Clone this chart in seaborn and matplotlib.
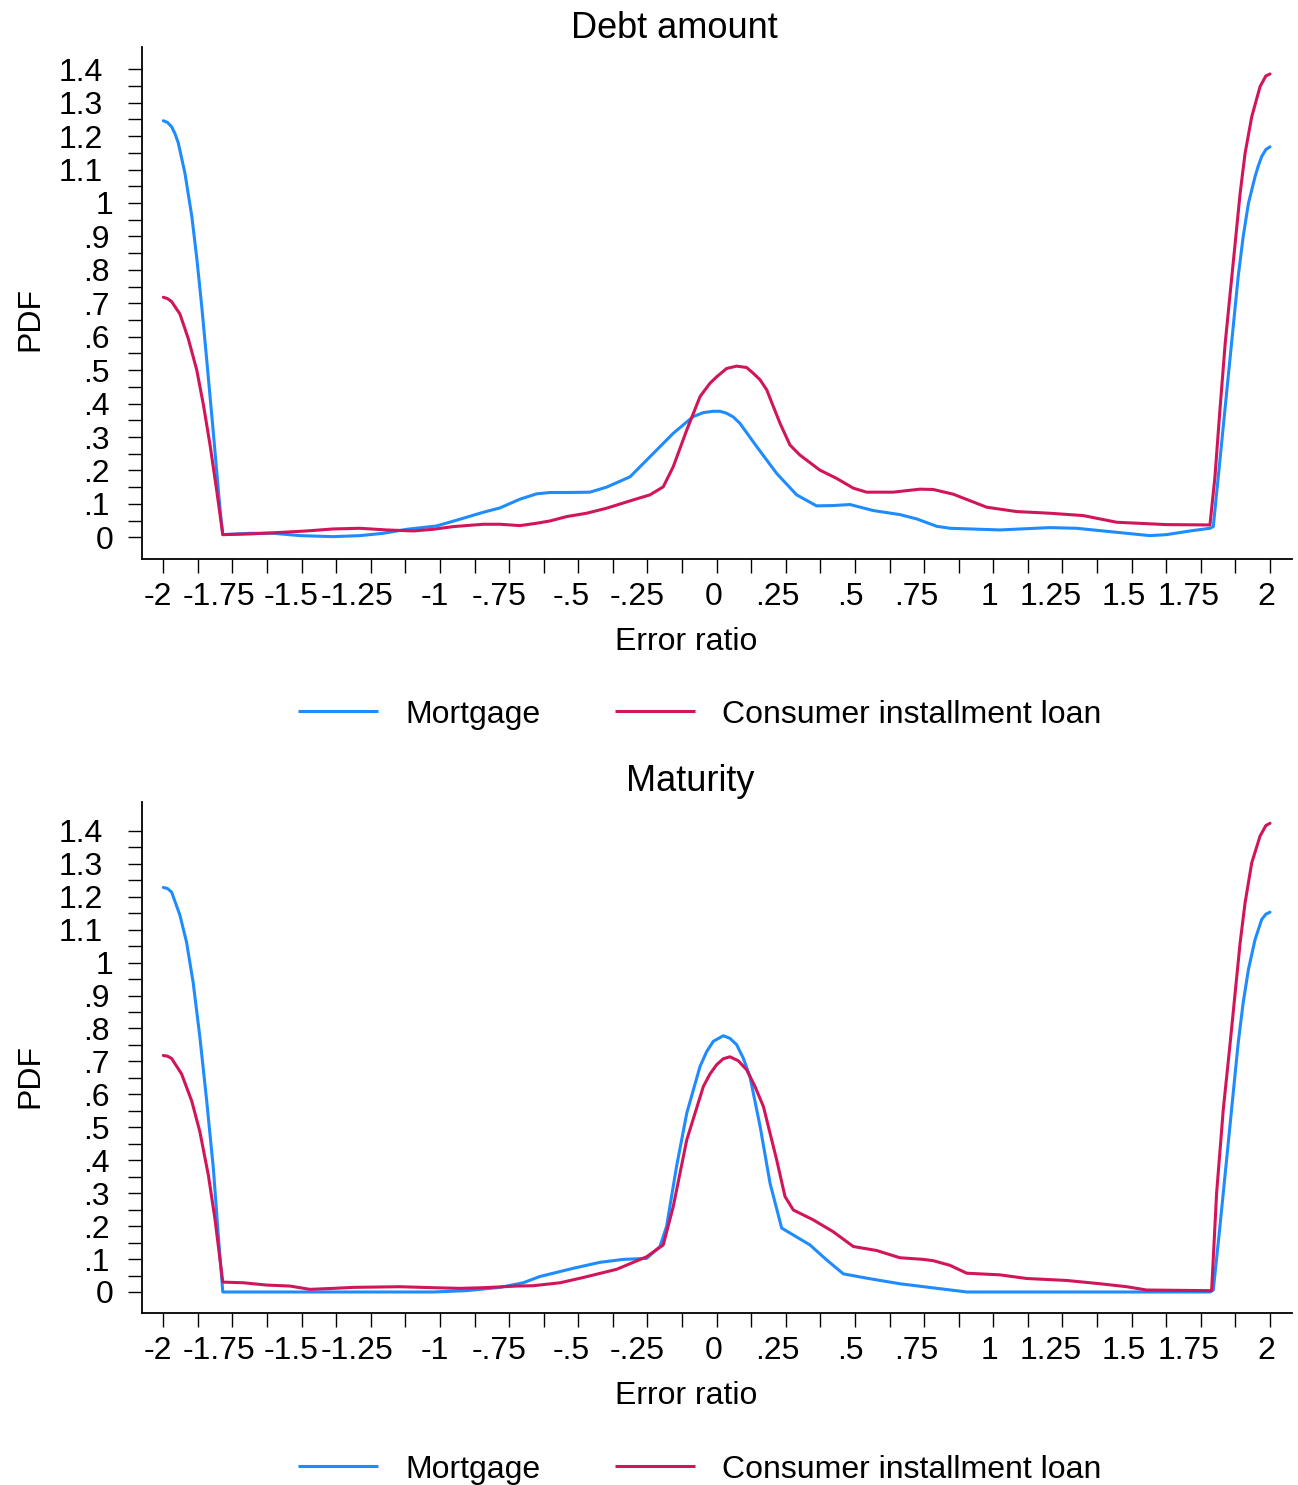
import numpy as np
import pandas as pd
import matplotlib
matplotlib.use("Agg")
import matplotlib.pyplot as plt
import matplotlib.transforms as mtransforms
from matplotlib.lines import Line2D
import seaborn as sns

# ---------------------------------------------------------------------------
# Kernel density of the error ratio (censored at -2 and 2)
# ---------------------------------------------------------------------------
debt_mortgage_x = [
    -2.000, -1.985, -1.970, -1.958, -1.946, -1.922, -1.897, -1.879, -1.861, -1.843,
    -1.819, -1.795, -1.785, -1.687, -1.602, -1.506, -1.386, -1.289, -1.205, -1.120,
    -1.012, -0.928, -0.843, -0.783, -0.711, -0.651, -0.602, -0.542, -0.458, -0.398,
    -0.313, -0.241, -0.157, -0.085, -0.048, -0.012, 0.012, 0.036, 0.060, 0.084,
    0.145, 0.217, 0.289, 0.361, 0.421, 0.482, 0.566, 0.662, 0.723, 0.795,
    0.843, 1.024, 1.204, 1.301, 1.433, 1.566, 1.626, 1.711, 1.783, 1.795,
    1.819, 1.843, 1.867, 1.885, 1.903, 1.922, 1.946, 1.958, 1.970, 1.985, 2.000]
debt_mortgage_pdf = [
    1.246, 1.241, 1.228, 1.208, 1.180, 1.090, 0.960, 0.835, 0.690, 0.530,
    0.311, 0.085, 0.008, 0.012, 0.012, 0.005, 0.002, 0.005, 0.012, 0.024,
    0.034, 0.054, 0.075, 0.088, 0.114, 0.130, 0.134, 0.134, 0.135, 0.150,
    0.181, 0.241, 0.311, 0.361, 0.373, 0.377, 0.377, 0.371, 0.360, 0.341,
    0.271, 0.191, 0.127, 0.094, 0.095, 0.098, 0.080, 0.068, 0.055, 0.033,
    0.027, 0.022, 0.029, 0.027, 0.016, 0.005, 0.008, 0.019, 0.027, 0.032,
    0.231, 0.431, 0.630, 0.780, 0.899, 0.999, 1.079, 1.112, 1.139, 1.160, 1.168]

debt_consumer_x = [
    -2.000, -1.985, -1.970, -1.940, -1.910, -1.879, -1.855, -1.831, -1.807, -1.785,
    -1.687, -1.590, -1.482, -1.386, -1.289, -1.193, -1.096, -1.024, -0.952, -0.843,
    -0.783, -0.711, -0.651, -0.602, -0.542, -0.470, -0.398, -0.301, -0.241, -0.193,
    -0.157, -0.108, -0.060, -0.024, 0.000, 0.036, 0.072, 0.108, 0.132, 0.157,
    0.181, 0.229, 0.265, 0.301, 0.373, 0.434, 0.494, 0.542, 0.638, 0.735,
    0.783, 0.855, 0.976, 1.084, 1.204, 1.325, 1.446, 1.626, 1.783, 1.801,
    1.819, 1.838, 1.856, 1.874, 1.892, 1.910, 1.934, 1.964, 1.985, 2.000]
debt_consumer_pdf = [
    0.718, 0.714, 0.705, 0.668, 0.595, 0.500, 0.396, 0.276, 0.140, 0.008,
    0.010, 0.014, 0.019, 0.025, 0.027, 0.022, 0.019, 0.024, 0.032, 0.039,
    0.039, 0.035, 0.042, 0.049, 0.062, 0.072, 0.087, 0.112, 0.127, 0.151,
    0.211, 0.321, 0.421, 0.461, 0.480, 0.505, 0.512, 0.508, 0.491, 0.471,
    0.441, 0.341, 0.276, 0.246, 0.201, 0.176, 0.147, 0.135, 0.135, 0.144,
    0.143, 0.129, 0.090, 0.077, 0.072, 0.065, 0.045, 0.038, 0.037, 0.181,
    0.381, 0.580, 0.730, 0.879, 1.029, 1.149, 1.258, 1.348, 1.380, 1.386]

maturity_mortgage_x = [
    -2.000, -1.985, -1.970, -1.940, -1.916, -1.892, -1.868, -1.843, -1.819, -1.801,
    -1.785, -1.024, -0.904, -0.783, -0.699, -0.639, -0.518, -0.422, -0.337, -0.253,
    -0.205, -0.181, -0.145, -0.108, -0.060, -0.036, -0.012, 0.024, 0.048, 0.072,
    0.096, 0.120, 0.157, 0.193, 0.235, 0.277, 0.337, 0.398, 0.458, 0.542,
    0.662, 0.807, 0.904, 1.783, 1.795, 1.819, 1.843, 1.867, 1.885, 1.903,
    1.922, 1.946, 1.970, 1.985, 2.000]
maturity_mortgage_pdf = [
    1.228, 1.225, 1.214, 1.144, 1.062, 0.939, 0.775, 0.579, 0.374, 0.169,
    0.000, 0.000, 0.004, 0.014, 0.028, 0.047, 0.072, 0.090, 0.099, 0.102,
    0.138, 0.199, 0.381, 0.543, 0.685, 0.730, 0.761, 0.778, 0.770, 0.751,
    0.710, 0.655, 0.503, 0.330, 0.194, 0.173, 0.143, 0.097, 0.055, 0.042,
    0.025, 0.010, 0.000, 0.000, 0.006, 0.199, 0.401, 0.604, 0.756, 0.878,
    0.979, 1.070, 1.131, 1.147, 1.153]

maturity_consumer_x = [
    -2.000, -1.985, -1.970, -1.934, -1.897, -1.868, -1.837, -1.813, -1.785, -1.711,
    -1.626, -1.542, -1.470, -1.386, -1.313, -1.145, -1.024, -0.928, -0.843, -0.723,
    -0.663, -0.566, -0.482, -0.361, -0.253, -0.193, -0.157, -0.108, -0.048, -0.024,
    0.000, 0.024, 0.048, 0.078, 0.108, 0.138, 0.169, 0.217, 0.247, 0.277,
    0.349, 0.421, 0.494, 0.578, 0.662, 0.747, 0.783, 0.843, 0.904, 1.024,
    1.120, 1.265, 1.386, 1.482, 1.554, 1.789, 1.807, 1.831, 1.856, 1.874,
    1.892, 1.910, 1.934, 1.964, 1.985, 2.000]
maturity_consumer_pdf = [
    0.718, 0.716, 0.709, 0.662, 0.579, 0.487, 0.354, 0.220, 0.030, 0.028,
    0.021, 0.018, 0.008, 0.011, 0.014, 0.016, 0.013, 0.011, 0.013, 0.018,
    0.019, 0.028, 0.044, 0.069, 0.107, 0.143, 0.259, 0.462, 0.624, 0.662,
    0.690, 0.708, 0.714, 0.702, 0.675, 0.625, 0.563, 0.401, 0.290, 0.249,
    0.219, 0.183, 0.138, 0.126, 0.104, 0.099, 0.095, 0.081, 0.057, 0.052,
    0.041, 0.035, 0.025, 0.016, 0.006, 0.004, 0.300, 0.553, 0.756, 0.908,
    1.060, 1.182, 1.303, 1.384, 1.416, 1.423]

loan_types = ["Mortgage", "Consumer installment loan"]
panel_titles = ["Debt amount", "Maturity"]
x_ticks = [-2, -1.75, -1.5, -1.25, -1, -0.75, -0.5, -0.25, 0,
           0.25, 0.5, 0.75, 1, 1.25, 1.5, 1.75, 2]
x_tick_labels = ["-2", "-1.75", "-1.5", "-1.25", "-1", "-.75", "-.5", "-.25", "0",
                 ".25", ".5", ".75", "1", "1.25", "1.5", "1.75", "2"]
y_ticks = [0, 0.1, 0.2, 0.3, 0.4, 0.5, 0.6, 0.7, 0.8, 0.9, 1.0, 1.1, 1.2, 1.3, 1.4]
y_tick_labels = ["0", ".1", ".2", ".3", ".4", ".5", ".6", ".7", ".8", ".9",
                 "1", "1.1", "1.2", "1.3", "1.4"]
x_label = "Error ratio"
y_label = "PDF"


def long_frame(series):
    parts = []
    for name, (xs, ys) in zip(loan_types, series):
        parts.append(pd.DataFrame({"ratio": xs, "pdf": ys, "loan": name}))
    return pd.concat(parts, ignore_index=True)


panels = [
    long_frame([(debt_mortgage_x, debt_mortgage_pdf), (debt_consumer_x, debt_consumer_pdf)]),
    long_frame([(maturity_mortgage_x, maturity_mortgage_pdf),
                (maturity_consumer_x, maturity_consumer_pdf)]),
]

# ---------------------------------------------------------------------------
# Figure layout (pixel based)
# ---------------------------------------------------------------------------
W, H, DPI = 1298, 1485, 100
FS = 23
FS_TITLE = 26
LW = 2.2
BLUE, RED = "#1E8CFF", "#D2155A"
palette = {loan_types[0]: BLUE, loan_types[1]: RED}

sns.set_style("ticks")
plt.rcParams["font.family"] = ["Liberation Sans", "DejaVu Sans"]
plt.rcParams["axes.linewidth"] = 1.3
plt.rcParams["text.color"] = "black"

fig = plt.figure(figsize=(W / DPI, H / DPI), dpi=DPI)
renderer = fig.canvas.get_renderer()


def fig_xy(px, py):
    return px / W, 1 - py / H


# (left, top, right, bottom) in pixels, y-limits, title placement, legend row, ylabel centre
layouts = [
    dict(box=(142, 47.3, 1292, 559.3), ylim=(-0.0658, 1.4657), title_x=674.5,
         title_base=37.5, legend_y=710.5, ylab_y=319),
    dict(box=(142, 802.4, 1292, 1313.3), ylim=(-0.0647, 1.4863), title_x=690,
         title_base=791, legend_y=1466, ylab_y=1076),
]
# legend sample lines and text starts (pixels)
legend_lines = [(298, 378, 405), (615, 695, 722)]

for df, title, lay in zip(panels, panel_titles, layouts):
    l, t, r, b = lay["box"]
    ax = fig.add_axes([l / W, 1 - b / H, (r - l) / W, (b - t) / H])
    sns.lineplot(data=df, x="ratio", y="pdf", hue="loan", palette=palette,
                 sort=False, estimator=None, legend=False, linewidth=LW, ax=ax)
    for ln in ax.get_lines():
        ln.set_solid_capstyle("round")
        ln.set_solid_joinstyle("round")

    ax.set_xlim(-2.077, 2.0795)
    ax.set_ylim(*lay["ylim"])
    sns.despine(ax=ax)
    ax.spines["left"].set_color("black")
    ax.spines["bottom"].set_color("black")

    ax.set_xticks(x_ticks)
    ax.set_xticks(np.arange(-1.875, 2.0, 0.25), minor=True)
    ax.set_yticks(y_ticks)
    ax.set_yticks(np.arange(0.05, 1.4, 0.1), minor=True)
    ax.tick_params(which="both", direction="out", length=10.4, width=1.0,
                   color="black", labelbottom=False, labelleft=False)
    ax.set_xlabel("")
    ax.set_ylabel("")

    # x tick labels, centred under each labelled tick
    xtr = mtransforms.blended_transform_factory(ax.transData, ax.transAxes)
    for v, s in zip(x_ticks, x_tick_labels):
        txt = ax.text(v, 0, s, ha="center", va="baseline", fontsize=FS,
                      color="black", transform=xtr, clip_on=False)
        w = txt.get_window_extent(renderer).width
        txt.set_transform(mtransforms.offset_copy(xtr, fig=fig, x=-0.19 * w,
                                                  y=-45.7, units="dots"))

    # y tick labels, right aligned next to the ticks
    ytr = mtransforms.blended_transform_factory(ax.transAxes, ax.transData)
    for v, s in zip(y_ticks, y_tick_labels):
        txt = ax.text(0, v, s, ha="right", va="center_baseline", fontsize=FS,
                      color="black", transform=ytr, clip_on=False)
        w = txt.get_window_extent(renderer).width
        txt.set_transform(mtransforms.offset_copy(ytr, fig=fig, x=-22 - 0.383 * w,
                                                  y=0, units="dots"))

    # title and axis titles
    fig.text(*fig_xy(lay["title_x"], lay["title_base"]), title, ha="center",
             va="baseline", fontsize=FS_TITLE, color="black")
    fig.text(*fig_xy(686.5, b + 91), x_label, ha="center", va="baseline",
             fontsize=FS, color="black")
    fig.text(*fig_xy(38.5, lay["ylab_y"]), y_label, rotation=90,
             rotation_mode="anchor", ha="center", va="baseline", fontsize=FS,
             color="black")

    # legend row under the panel
    ly = lay["legend_y"]
    for name, (x0, x1, tx) in zip(loan_types, legend_lines):
        fy = 1 - ly / H
        fig.add_artist(Line2D([x0 / W, x1 / W], [fy, fy], transform=fig.transFigure,
                              color=palette[name], linewidth=LW,
                              solid_capstyle="butt"))
        fig.text(*fig_xy(tx, ly + 12.2), name, ha="left", va="baseline",
                 fontsize=FS, color="black")

fig.savefig("out.png", dpi=DPI)
